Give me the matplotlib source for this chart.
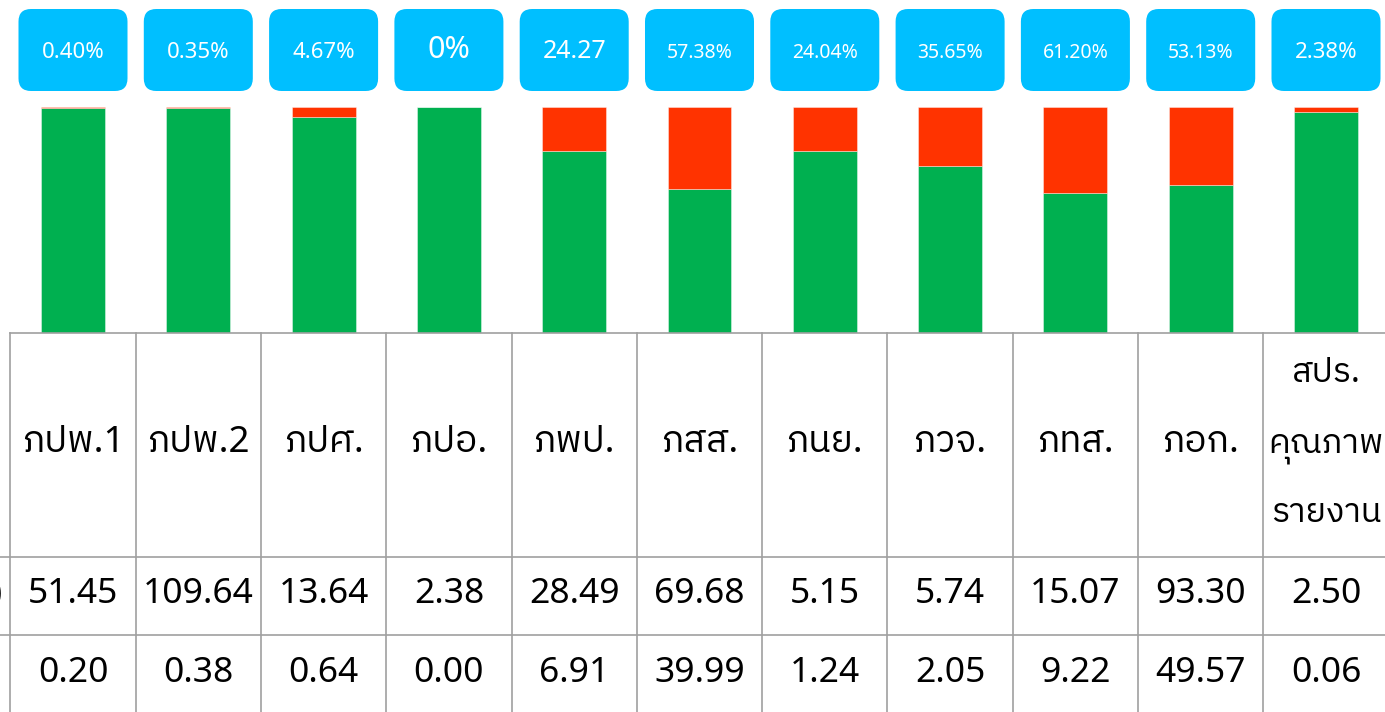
import matplotlib

matplotlib.use("Agg")

import matplotlib.pyplot as plt
from matplotlib import font_manager
from matplotlib.ft2font import FT2Font
from matplotlib.patches import FancyBboxPatch

# data
units = ["ภปพ.1", "ภปพ.2", "ภปศ.", "ภปอ.", "ภพป.", "ภสส.", "ภนย.", "ภวจ.", "ภทส.", "ภอก.",
         "สปร.\nคุณภาพ\nรายงาน"]
row_total = [51.45, 109.64, 13.64, 2.38, 28.49, 69.68, 5.15, 5.74, 15.07, 93.30, 2.50]
row_part = [0.20, 0.38, 0.64, 0.00, 6.91, 39.99, 1.24, 2.05, 9.22, 49.57, 0.06]
ratio_labels = ["0.40%", "0.35%", "4.67%", "0%", "24.27", "57.38%", "24.04%", "35.65%",
                "61.20%", "53.13%", "2.38%"]
row_labels = ["(ล้านบาท)", ""]

GREEN = "#00B050"
RED = "#FF3300"
BOX_COLOR = "#00BFFF"
GRID = "#A0A0A0"
label_sizes = [16, 16, 16, 22, 18, 14, 14, 14, 14, 14, 16]


def find_thai_font():
    best = None
    for entry in font_manager.fontManager.ttflist:
        try:
            charmap = FT2Font(entry.fname).get_charmap()
        except Exception:
            continue
        if 0x0E20 not in charmap:
            continue
        score = 0
        if "thai" in entry.name.lower():
            score += 2
        if "looped" in entry.name.lower():
            score -= 1
        if entry.weight in (400, "normal", "regular"):
            score += 1
        if best is None or score > best[0]:
            best = (score, entry.name)
    return best[1] if best else None


thai = find_thai_font()
families = ["Noto Sans"] + ([thai] if thai else []) + ["DejaVu Sans"]
plt.rcParams["font.family"] = families

W, H = 1385, 712
fig = plt.figure(figsize=(W / 100, H / 100), dpi=100)

n = len(units)
left_px, right_px = 10.35, 1388.65
unit_px = (right_px - left_px) / n
ax_left = left_px / W
ax_width = (right_px - left_px) / W

# bars: 100% stacked shares
ax = fig.add_axes([ax_left, 379 / H, ax_width, 226 / H])
x = list(range(n))
green_share = [t / (t + p) for t, p in zip(row_total, row_part)]
red_share = [p / (t + p) for t, p in zip(row_total, row_part)]
ax.bar(x, green_share, width=0.51, color=GREEN, edgecolor=(1, 1, 1, 0.4), linewidth=0.7)
ax.bar(x, red_share, bottom=green_share, width=0.51, color=RED,
       edgecolor=(1, 1, 1, 0.4), linewidth=0.7)
ax.set_xlim(-0.5, n - 0.5)
ax.set_ylim(0, 1)
ax.axis("off")

# rounded ratio boxes
lab = fig.add_axes([ax_left, 605 / H, ax_width, 107 / H])
lab.set_xlim(-0.5, n - 0.5)
lab.set_ylim(107, 0)
lab.axis("off")
box_w = 0.87
for i, (text, size) in enumerate(zip(ratio_labels, label_sizes)):
    patch = FancyBboxPatch(
        (i - box_w / 2, 9), box_w, 82,
        boxstyle="round,pad=0,rounding_size=0.1",
        mutation_aspect=unit_px,
        facecolor=BOX_COLOR, edgecolor="none",
    )
    lab.add_patch(patch)
    lab.text(i, 57.5, text, ha="center", va="baseline", color="white", fontsize=size)

# table
tab = fig.add_axes([ax_left, 0, ax_width, 379 / H])
tab.set_xlim(-0.5, n - 0.5)
tab.set_ylim(379, 0)
tab.axis("off")
line_kw = dict(color=GRID, linewidth=1.2, clip_on=False)
tab.plot([-0.5, n - 0.5], [0, 0], **line_kw)
for y in (224, 302):
    tab.plot([-0.7, n - 0.5], [y, y], **line_kw)
for k in range(n + 1):
    tab.plot([k - 0.5, k - 0.5], [0, 380], **line_kw)

for i, name in enumerate(units):
    lines = name.split("\n")
    size = 26.5 if len(lines) == 1 else 24.5
    for j, line in enumerate(lines):
        y = 119 + 70 * (j - (len(lines) - 1) / 2)
        tab.text(i, y, line, ha="center", va="baseline", fontsize=size)
    tab.text(i, 270, f"{row_total[i]:.2f}", ha="center", va="baseline", fontsize=25.5)
    tab.text(i, 349, f"{row_part[i]:.2f}", ha="center", va="baseline", fontsize=25.5)

for y, text in zip((270, 349), row_labels):
    if text:
        tab.text(-0.5 - 0.056, y, text, ha="right", va="baseline", fontsize=25.5,
                 clip_on=False)

fig.savefig("out.png", dpi=100)
